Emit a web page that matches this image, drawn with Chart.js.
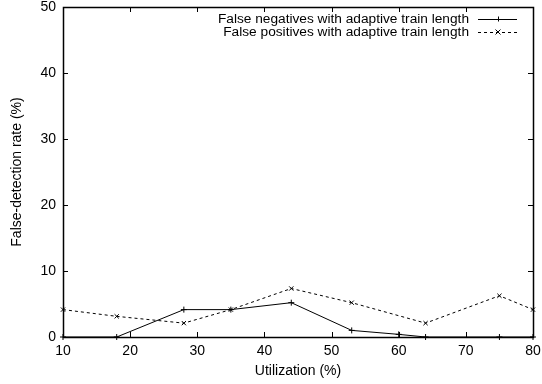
<!DOCTYPE html>
<html>
<head>
<meta charset="utf-8">
<script src="https://cdn.jsdelivr.net/npm/chart.js@4/dist/chart.umd.min.js"></script>
<style>
html,body{margin:0;padding:0;background:#fff;}
#wrap{width:542px;height:384px;}
</style>
</head>
<body>
<div id="wrap"><canvas id="c" width="542" height="384"></canvas></div>
<script>
const utilization = [10, 18, 28, 35, 44, 53, 60, 64, 75, 80];
const falseNegatives = [0, 0, 4.15, 4.15, 5.2, 1.0, 0.4, 0, 0, 0];
const falsePositivesX = [10, 18, 28, 35, 44, 53, 64, 75, 80];
const falsePositives = [4.15, 3.13, 2.1, 4.15, 7.35, 5.2, 2.1, 6.25, 4.15];
const xTicks = [10, 20, 30, 40, 50, 60, 70, 80];
const yTicks = [0, 10, 20, 30, 40, 50];
const seriesNames = ["False negatives with adaptive train length", "False positives with adaptive train length"];
const xTitle = "Utilization (%)";
const yTitle = "False-detection rate (%)";

const FONT = "'Liberation Sans', Arial, Helvetica, sans-serif";

const boxPlugin = {
  id: 'gnuplotBox',
  afterDraw(chart) {
    const ctx = chart.ctx;
    const a = chart.chartArea;
    const xs = chart.scales.x, ys = chart.scales.y;
    ctx.save();
    ctx.strokeStyle = '#000';
    ctx.lineWidth = 1;
    ctx.setLineDash([]);
    const tl = 5;
    ctx.beginPath();
    xTicks.forEach(v => {
      const px = Math.round(xs.getPixelForValue(v)) + 0.5;
      ctx.moveTo(px, a.bottom); ctx.lineTo(px, a.bottom - tl);
      ctx.moveTo(px, a.top); ctx.lineTo(px, a.top + tl);
    });
    yTicks.forEach(v => {
      const py = Math.round(ys.getPixelForValue(v)) + 0.5;
      ctx.moveTo(a.left, py); ctx.lineTo(a.left + tl, py);
      ctx.moveTo(a.right, py); ctx.lineTo(a.right - tl, py);
    });
    ctx.stroke();
    ctx.lineWidth = 1.5;
    ctx.strokeRect(Math.round(a.left) + 0.5, Math.round(a.top) + 0.5, Math.round(a.right - a.left), Math.round(a.bottom - a.top));
    ctx.font = "13.7px " + FONT;
    ctx.fillStyle = '#000';
    ctx.textAlign = 'right';
    ctx.textBaseline = 'middle';
    const textRight = a.right - 64;
    const sx0 = a.right - 55, sx1 = a.right - 16;
    const rows = [a.top + 12, a.top + 25];
    chart.data.datasets.forEach((ds, i) => {
      const y = rows[i];
      ctx.fillText(ds.label, textRight, y);
      ctx.lineWidth = 1;
      ctx.setLineDash(ds.borderDash || []);
      ctx.beginPath();
      ctx.moveTo(sx0, y + 0.5); ctx.lineTo(sx1, y + 0.5);
      ctx.stroke();
      ctx.setLineDash([]);
      const cx = Math.round((sx0 + sx1) / 2), r = 2.5;
      ctx.beginPath();
      if (ds.pointStyle === 'cross') {
        ctx.moveTo(cx - r, y + 0.5); ctx.lineTo(cx + r, y + 0.5);
        ctx.moveTo(cx + 0.5, y - r); ctx.lineTo(cx + 0.5, y + r);
      } else {
        ctx.moveTo(cx - r, y - r); ctx.lineTo(cx + r, y + r);
        ctx.moveTo(cx - r, y + r); ctx.lineTo(cx + r, y - r);
      }
      ctx.stroke();
    });
    ctx.restore();
  }
};

new Chart(document.getElementById('c'), {
  type: 'line',
  data: {
    datasets: [
      {
        label: seriesNames[0],
        data: utilization.map((x, i) => ({x: x, y: falseNegatives[i]})),
        borderColor: '#000', backgroundColor: '#000', borderWidth: 1,
        pointStyle: 'cross', pointRadius: 3, pointBorderWidth: 1,
        pointBorderColor: '#000', tension: 0, fill: false, clip: false
      },
      {
        label: seriesNames[1],
        data: falsePositivesX.map((x, i) => ({x: x, y: falsePositives[i]})),
        borderColor: '#000', backgroundColor: '#000', borderWidth: 1,
        borderDash: [3, 3],
        pointStyle: 'crossRot', pointRadius: 3, pointBorderWidth: 1,
        pointBorderColor: '#000', tension: 0, fill: false, clip: false
      }
    ]
  },
  options: {
    responsive: false,
    animation: false,
    devicePixelRatio: 1,
    layout: { padding: { left: 0, right: 9, top: 7, bottom: 0 } },
    plugins: { legend: { display: false }, tooltip: { enabled: false } },
    scales: {
      x: {
        type: 'linear', min: 10, max: 80,
        afterBuildTicks: s => { s.ticks = xTicks.map(v => ({value: v})); },
        afterFit: s => { s.height = 47; s.paddingLeft = 0; s.paddingRight = 0; },
        grid: { display: false, drawTicks: false },
        border: { display: false },
        ticks: { color: '#000', font: { family: FONT, size: 14 }, padding: 6, maxRotation: 0 },
        title: { display: true, text: xTitle, color: '#000', font: { family: FONT, size: 14 }, padding: { top: 2, bottom: 4 } }
      },
      y: {
        type: 'linear', min: 0, max: 50,
        afterBuildTicks: s => { s.ticks = yTicks.map(v => ({value: v})); },
        afterFit: s => { s.width = 63; s.paddingTop = 0; s.paddingBottom = 0; },
        grid: { display: false, drawTicks: false },
        border: { display: false },
        ticks: { color: '#000', font: { family: FONT, size: 14 }, padding: 7 },
        title: { display: true, text: yTitle, color: '#000', font: { family: FONT, size: 14 }, padding: { top: 9, bottom: 4 } }
      }
    }
  },
  plugins: [boxPlugin]
});
</script>
</body>
</html>
